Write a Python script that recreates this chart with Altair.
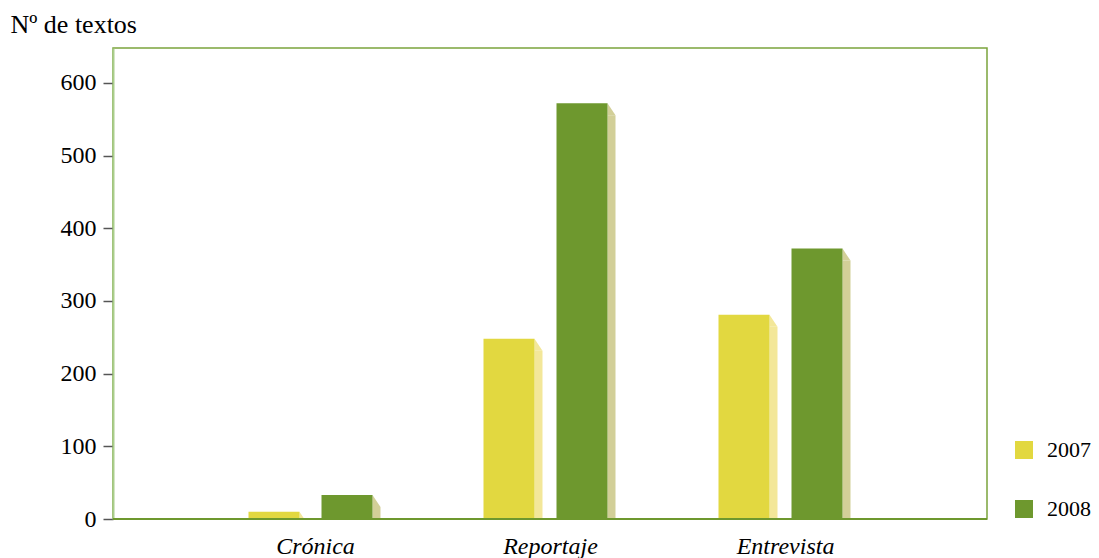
import altair as alt
import pandas as pd

categories = ["Crónica", "Reportaje", "Entrevista"]
years = ["2007", "2008"]
values_2007 = [10, 248, 281]
values_2008 = [33, 572, 372]

rows = []
for c, v7, v8 in zip(categories, values_2007, values_2008):
    rows.append({"cat": c, "year": "2007", "n": v7})
    rows.append({"cat": c, "year": "2008", "n": v8})
df = pd.DataFrame(rows)

bar_colors = ["#e2d840", "#6e982e"]
side_colors = ["#f3e799", "#d2cf98"]
FONT = "Liberation Serif"

xenc = alt.X("cat:N", sort=categories, title=None,
             scale=alt.Scale(range=[80, 785], paddingInner=0, paddingOuter=0),
             axis=alt.Axis(labelAngle=0, labelFont=FONT, labelFontSize=24,
                           labelFontStyle="italic", labelColor="#000",
                           labelPadding=15, labelOffset=5, ticks=False,
                           domain=False))
yscale = alt.Scale(domain=[0, 648], nice=False)
yenc = alt.Y("n:Q", title="Nº de textos", scale=yscale,
             axis=alt.Axis(values=[0, 100, 200, 300, 400, 500, 600], grid=False,
                           labelFont=FONT, labelFontSize=24, labelColor="#000",
                           tickColor="#555", tickSize=10, tickWidth=1.5,
                           labelPadding=7, domainColor="#aacd8c", domainWidth=2,
                           titleAngle=0, titleAlign="left", titleBaseline="alphabetic",
                           titleX=-103, titleY=-16, titleFont=FONT, titleFontSize=26,
                           titleFontWeight="normal", titleColor="#000"))

layers = []
offsets = {"2007": -36.5, "2008": 36.5}
for i, yr in enumerate(years):
    d = df[df.year == yr]
    off = offsets[yr]
    base = alt.Chart(d)
    # side face rectangle
    side = base.mark_bar(width=8, xOffset=off + 29.5, yOffset=12, clip=True,
                         color=side_colors[i]).encode(x=xenc, y=yenc)
    # side face slanted top
    tri = base.mark_point(shape="M-1,-1L0.3333,1L-1,1Z", size=144, filled=True,
                          opacity=1, strokeWidth=0, xOffset=off + 25.5 + 6,
                          yOffset=6, clip=True, color=side_colors[i]).encode(x=xenc, y=yenc)
    bar = base.mark_bar(width=51, xOffset=off).encode(
        x=xenc, y=yenc,
        color=alt.Color("year:N", title=None,
                        scale=alt.Scale(domain=years, range=bar_colors),
                        legend=alt.Legend(orient="none", legendX=900, legendY=391,
                                          symbolType="square", symbolSize=324,
                                          symbolStrokeWidth=0, symbolOpacity=1,
                                          labelFont=FONT, labelFontSize=22,
                                          labelColor="#000", labelOffset=12,
                                          labelLimit=0,
                                          rowPadding=37, padding=0)))
    layers += [side, tri, bar]

baseline = alt.Chart(pd.DataFrame({"z": [0]})).mark_rule(
    color="#6e982e", strokeWidth=2).encode(
    y=alt.Y("z:Q", scale=yscale), x=alt.value(0), x2=alt.value(874))
layers.append(baseline)

chart = alt.layer(*layers).properties(
    width=874, height=471,
    background="white",
    autosize=alt.AutoSizeParams(type="none"),
    padding={"left": 105, "top": 40, "right": 104, "bottom": 39},
).configure_view(stroke="#7ba43c", strokeWidth=1.5)

chart.save("out.html", embed_options={"renderer": "svg", "actions": False})
